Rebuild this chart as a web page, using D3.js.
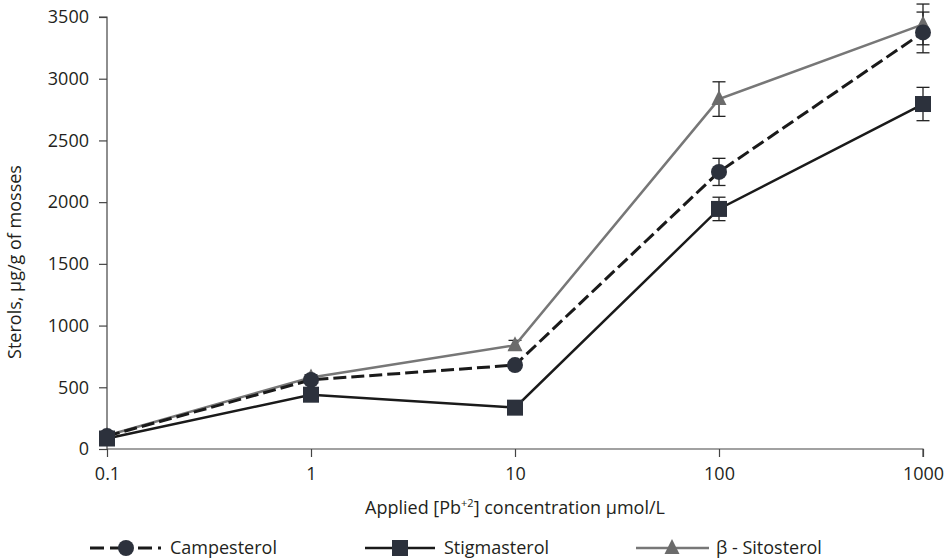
<!DOCTYPE html>
<html>
<head>
<meta charset="utf-8">
<script src="https://cdn.jsdelivr.net/npm/d3@7"></script>
<style>
  body { margin: 0; background: #fff; }
  svg { font-family: "Open Sans", sans-serif; }
</style>
</head>
<body>
<svg width="944" height="560"></svg>
<script>
// data
let concentrations = ["0.1", "1", "10", "100", "1000"];
let campesterol = [105, 560, 680, 2245, 3375];
let campesterolErr = [15, 20, 25, 110, 165];
let stigmasterol = [85, 440, 335, 1945, 2795];
let stigmasterolErr = [10, 20, 20, 95, 135];
let sitosterol = [110, 580, 840, 2835, 3440];
let sitosterolErr = [15, 20, 40, 140, 165];
let yTicks = [0, 500, 1000, 1500, 2000, 2500, 3000, 3500];

let svg = d3.select("svg");
let plotLeft = 107, plotRight = 923, plotTop = 17, plotBottom = 449;
let markFill = "#2c313c";
let fontSize = "18px";
let textColor = "#231f20";

let x = d3.scalePoint().domain(concentrations).range([plotLeft, plotRight]);
let y = d3.scaleLinear().domain([0, 3500]).range([plotBottom, plotTop]);

// axes
let yAxis = svg.append("g")
    .attr("transform", "translate(" + plotLeft + ",0)")
    .call(d3.axisLeft(y).tickValues(yTicks).tickSize(8).tickPadding(10).tickFormat(d3.format("d")));
let xAxis = svg.append("g")
    .attr("transform", "translate(0," + plotBottom + ")")
    .call(d3.axisBottom(x).tickSize(8).tickPadding(10));
[yAxis, xAxis].forEach(function (a) {
    a.select(".domain").attr("stroke", "#444").attr("stroke-width", 1.2);
    a.selectAll(".tick line").attr("stroke", "#444").attr("stroke-width", 1.2);
    a.selectAll(".tick text").attr("font-size", fontSize).attr("fill", textColor)
        .attr("font-family", "Open Sans, sans-serif");
});
// y axis top cap and x axis right cap as in the reference
yAxis.select(".domain").attr("d", "M-8," + plotTop + "H0V" + plotBottom);
xAxis.select(".domain").attr("d", "M" + plotLeft + ",0H" + plotRight + "V8");

// axis titles
svg.append("text")
    .attr("transform", "translate(21,262) rotate(-90)")
    .attr("text-anchor", "middle")
    .attr("font-size", fontSize)
    .attr("fill", textColor)
    .text("Sterols, µg/g of mosses");

let xt = svg.append("text")
    .attr("x", 515)
    .attr("y", 514)
    .attr("text-anchor", "middle")
    .attr("font-size", fontSize)
    .attr("fill", textColor);
xt.append("tspan").text("Applied [Pb");
xt.append("tspan").attr("font-size", "11px").attr("dy", "-7").text("+2");
xt.append("tspan").attr("dy", "7").text("] concentration µmol/L");

let series = [
    {name: "β - Sitosterol", vals: sitosterol, err: sitosterolErr, color: "#777", width: 2.5, dash: null, mark: "triangle", markColor: "#6b6b6b"},
    {name: "Campesterol", vals: campesterol, err: campesterolErr, color: "#1a1a1a", width: 3, dash: "13,5", mark: "circle", markColor: markFill},
    {name: "Stigmasterol", vals: stigmasterol, err: stigmasterolErr, color: "#1a1a1a", width: 2.5, dash: null, mark: "square", markColor: markFill}
];

let line = d3.line()
    .x(function (d, i) { return x(concentrations[i]); })
    .y(function (d) { return y(d); });

function drawMark(g, s, cx, cy) {
    if (s.mark === "circle") {
        g.append("circle").attr("cx", cx).attr("cy", cy).attr("r", 8).attr("fill", s.markColor);
    } else if (s.mark === "square") {
        g.append("rect").attr("x", cx - 8).attr("y", cy - 8).attr("width", 16).attr("height", 16).attr("fill", s.markColor);
    } else {
        g.append("path")
            .attr("d", "M" + cx + "," + (cy - 9) + "L" + (cx + 7.5) + "," + (cy + 6) + "L" + (cx - 7.5) + "," + (cy + 6) + "Z")
            .attr("fill", s.markColor);
    }
}

// error bars
series.forEach(function (s) {
    let g = svg.append("g").attr("stroke", "#222").attr("stroke-width", 1.3);
    s.vals.forEach(function (v, i) {
        let cx = x(concentrations[i]);
        g.append("line").attr("x1", cx).attr("x2", cx).attr("y1", y(v - s.err[i])).attr("y2", y(v + s.err[i]));
        g.append("line").attr("x1", cx - 6.5).attr("x2", cx + 6.5).attr("y1", y(v - s.err[i])).attr("y2", y(v - s.err[i]));
        g.append("line").attr("x1", cx - 6.5).attr("x2", cx + 6.5).attr("y1", y(v + s.err[i])).attr("y2", y(v + s.err[i]));
    });
});

// lines and markers
series.forEach(function (s) {
    svg.append("path")
        .datum(s.vals)
        .attr("d", line)
        .attr("fill", "none")
        .attr("stroke", s.color)
        .attr("stroke-width", s.width)
        .attr("stroke-dasharray", s.dash);
});
series.forEach(function (s) {
    let g = svg.append("g");
    s.vals.forEach(function (v, i) {
        drawMark(g, s, x(concentrations[i]), y(v));
    });
});

// legend
let legendItems = [
    {s: series[1], x0: 90, x1: 161, mx: 126, tx: 170},
    {s: series[2], x0: 365, x1: 435, mx: 400, tx: 444},
    {s: series[0], x0: 636, x1: 709, mx: 672, tx: 716}
];
let ly = 548;
legendItems.forEach(function (it) {
    let s = it.s;
    let g = svg.append("g");
    g.append("line")
        .attr("x1", it.x0).attr("x2", it.x1)
        .attr("y1", ly).attr("y2", ly)
        .attr("stroke", s.color).attr("stroke-width", s.width)
        .attr("stroke-dasharray", s.dash ? "14,6,22,6,14,6,3" : null);
    drawMark(g, s, it.mx, ly);
    g.append("text")
        .attr("x", it.tx).attr("y", ly + 6)
        .attr("font-size", fontSize).attr("fill", textColor)
        .text(s.name);
});
</script>
</body>
</html>
